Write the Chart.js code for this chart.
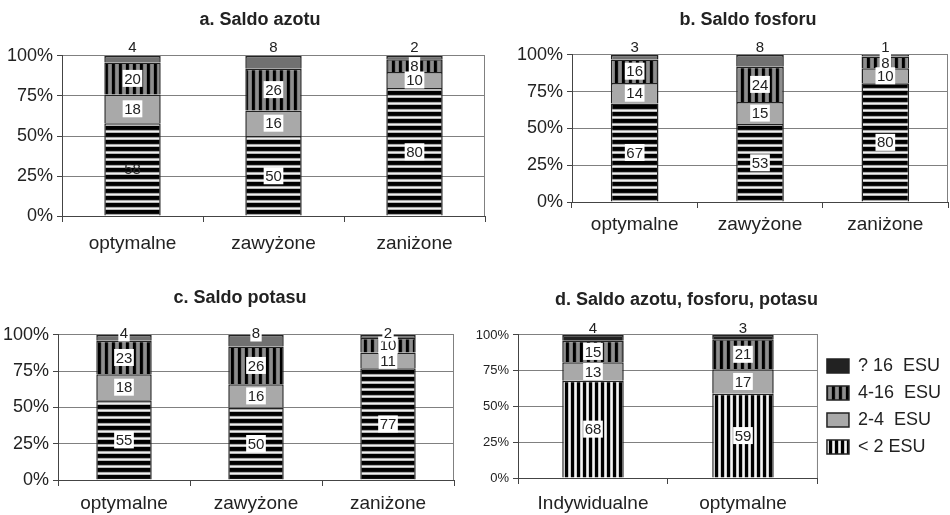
<!DOCTYPE html>
<html>
<head>
<meta charset="utf-8">
<script src="https://cdn.jsdelivr.net/npm/chart.js@4.4.0/dist/chart.umd.min.js"></script>
<style>
    body { margin: 0; width: 950px; height: 515px; overflow: hidden; background: #fff; position: relative; }
    .panel { position: absolute; }
</style>
</head>
<body>
<div class="panel" id="pA"><canvas id="cA"></canvas></div>
<div class="panel" id="pB"><canvas id="cB"></canvas></div>
<div class="panel" id="pC"><canvas id="cC"></canvas></div>
<div class="panel" id="pD"><canvas id="cD"></canvas></div>
<script>
// Kategorie i grupy
const kategorieABC = ["optymalne", "zawyżone", "zaniżone"];
const kategorieD = ["Indywidualne", "optymalne"];
const grupy = ["< 2 ESU", "2-4  ESU", "4-16  ESU", "? 16  ESU"];
const yTicks = [0, 25, 50, 75, 100];

// a. Saldo azotu
const azotPonizej2 = [58, 50, 80];
const azot2do4 = [18, 16, 10];
const azot4do16 = [20, 26, 8];
const azotPowyzej16 = [4, 8, 2];

// b. Saldo fosforu
const fosforPonizej2 = [67, 53, 80];
const fosfor2do4 = [14, 15, 10];
const fosfor4do16 = [16, 24, 8];
const fosforPowyzej16 = [3, 8, 1];

// c. Saldo potasu
const potasPonizej2 = [55, 50, 77];
const potas2do4 = [18, 16, 11];
const potas4do16 = [23, 26, 10];
const potasPowyzej16 = [4, 8, 2];

// d. Saldo azotu, fosforu, potasu
const npkPonizej2 = [68, 59];
const npk2do4 = [13, 17];
const npk4do16 = [15, 21];
const npkPowyzej16 = [4, 3];

const FONT = '"Liberation Sans", Arial, sans-serif';
Chart.defaults.font.family = FONT;

// wzor paskowy: lista kolorow na kolejne piksele
function wzor(ctx, kierunek, kolory) {
    const n = kolory.length;
    const c = document.createElement("canvas");
    c.width = kierunek === "h" ? 8 : n;
    c.height = kierunek === "h" ? n : 8;
    const g = c.getContext("2d");
    kolory.forEach((kol, i) => {
        g.fillStyle = kol;
        if (kierunek === "h") g.fillRect(0, i, 8, 1);
        else g.fillRect(i, 0, 1, 8);
    });
    return ctx.createPattern(c, "repeat");
}

// etykiety wartosci w bialych ramkach
const etykiety = {
    id: "etykiety",
    afterDatasetsDraw(chart, args, opts) {
        const ctx = chart.ctx;
        const n = chart.data.datasets.length;
        ctx.save();
        ctx.font = "15px " + FONT;
        ctx.textAlign = "center";
        ctx.textBaseline = "middle";
        chart.data.datasets.forEach((ds, di) => {
            chart.getDatasetMeta(di).data.forEach((bar, i) => {
                const txt = String(ds.surowe[i]);
                const gora = di === n - 1;
                const y = gora ? bar.y - opts.nadGora : (bar.y + bar.base) / 2;
                const w = ctx.measureText(txt).width + 3;
                const bezRamki = (gora && !opts.ramkaGora) || (opts.bezRamki || []).some(p => p[0] === di && p[1] === i);
                if (!bezRamki) {
                    ctx.fillStyle = "#fff";
                    ctx.fillRect(bar.x - w / 2, y - 8.5, w, 17);
                }
                ctx.fillStyle = "#222";
                ctx.fillText(txt, bar.x, y + 1);
            });
        });
        ctx.restore();
    }
};

// prawa krawedz obszaru wykresu
const ramka = {
    id: "ramka",
    beforeDatasetsDraw(chart) {
        const { ctx, chartArea: a } = chart;
        ctx.save();
        ctx.strokeStyle = "#808080";
        ctx.lineWidth = 1;
        ctx.beginPath();
        ctx.moveTo(a.right - 0.5, a.top);
        ctx.lineTo(a.right - 0.5, a.bottom);
        ctx.stroke();
        ctx.restore();
    }
};

function rysuj(p) {
    // title centred over [cx, cx + cw] via an empty right-hand axis
    const cw = p.tytulKoniec ? p.cw : 2 * (p.tx - p.cx);
    const div = document.getElementById(p.div);
    div.style.left = p.cx + "px";
    div.style.top = p.cy + "px";
    div.style.width = cw + "px";
    div.style.height = p.ch + "px";
    const canvas = document.getElementById(p.canvas);
    const ctx = canvas.getContext("2d");

    const wzorPonizej2 = p.pionowe
        ? wzor(ctx, "v", ["#000", "#000", "#000", "#c4c4c4", "#f4f4f4", "#d0d0d0"])
        : wzor(ctx, "h", ["#000", "#000", "#000", "#111", "#a8a8a8", "#f0f0f0", "#b8b8b8"]);
    const wzor4do16 = wzor(ctx, "v", ["#000", "#000", "#111", "#7a7a7a", "#8e8e8e", "#8e8e8e", "#7a7a7a"]);
    const tla = [wzorPonizej2, "#a9a9a9", wzor4do16, p.kolorGora];

    const sumy = p.kategorie.map((_, i) => p.serie.reduce((s, ser) => s + ser[i], 0));
    const datasets = p.serie.map((vals, k) => ({
        label: grupy[k],
        surowe: vals,
        data: vals.map((v, i) => v / sumy[i] * 100),
        backgroundColor: tla[k],
        borderColor: "#222",
        borderWidth: 1.5,
        barPercentage: p.szer,
        categoryPercentage: 1
    }));

    const yW = p.L - p.cx;
    const prawaW = p.tytulKoniec ? 0 : cw - (p.R - p.cx);
    const tytTop = p.ty - p.cy - 10.8;
    const tytBottom = p.T - p.cy - tytTop - 21.6;

    const skale = {
        x: {
            stacked: true,
            grid: { display: true, drawOnChartArea: false, tickLength: 6, color: "#444", offset: true },
            border: { display: true, color: "#444", width: 1 },
            ticks: { color: "#222", font: { size: 19, family: FONT }, padding: p.xPad, maxRotation: 0, autoSkip: false },
            afterFit(s) { s.height = p.cy + p.ch - p.B; }
        },
        y: {
            stacked: true,
            min: 0,
            max: 100,
            afterBuildTicks(s) { s.ticks = yTicks.map(v => ({ value: v })); },
            grid: { color: "#808080", tickLength: 5, tickColor: "#444" },
            border: { color: "#444", width: 1 },
            ticks: { color: "#222", font: { size: p.yFont, family: FONT }, padding: 4, callback: v => v + "%" },
            afterFit(s) { s.width = yW; }
        }
    };
    if (prawaW > 0) {
        skale.prawa = {
            type: "linear",
            position: "right",
            grid: { display: false },
            border: { display: false },
            ticks: { display: false },
            afterFit(s) { s.width = prawaW; }
        };
    }

    new Chart(canvas, {
        type: "bar",
        data: { labels: p.kategorie, datasets: datasets },
        options: {
            responsive: true,
            maintainAspectRatio: false,
            animation: false,
            layout: { padding: { left: 0, right: p.padPrawo || 0, top: 0, bottom: 0 } },
            plugins: {
                title: {
                    display: true,
                    text: p.tytul,
                    color: "#222",
                    font: { size: 18, weight: "bold", family: FONT, lineHeight: 1.2 },
                    padding: { top: tytTop, bottom: tytBottom },
                    align: p.tytulKoniec ? "end" : "center",
                    fullSize: !p.tytulKoniec
                },
                legend: p.legenda ? {
                    display: true,
                    position: "right",
                    fullSize: false,
                    maxWidth: 200,
                    reverse: true,
                    align: "center",
                    labels: {
                        boxWidth: 22,
                        boxHeight: 14,
                        padding: 9,
                        color: "#222",
                        font: { size: 18, family: FONT }
                    }
                } : { display: false },
                tooltip: { enabled: false },
                etykiety: { nadGora: p.nadGora, ramkaGora: p.ramkaGora, bezRamki: p.bezRamki }
            },
            scales: skale
        },
        plugins: [ramka, etykiety]
    });
}

rysuj({
    div: "pA", canvas: "cA", tytul: "a. Saldo azotu", kategorie: kategorieABC,
    serie: [azotPonizej2, azot2do4, azot4do16, azotPowyzej16],
    cx: 0, cy: 0, ch: 258, L: 62, R: 485, T: 56, B: 216, tx: 260, ty: 20,
    szer: 0.4, xPad: 10, yFont: 18, kolorGora: "#717171",
    nadGora: 9, ramkaGora: false, bezRamki: [[0, 0]]
});
rysuj({
    div: "pB", canvas: "cB", tytul: "b. Saldo fosforu", kategorie: kategorieABC,
    serie: [fosforPonizej2, fosfor2do4, fosfor4do16, fosforPowyzej16],
    cx: 510, cy: 0, ch: 258, L: 572, R: 948, T: 55, B: 202, tx: 748, ty: 20,
    szer: 0.38, xPad: 5, yFont: 18, kolorGora: "#717171",
    nadGora: 8, ramkaGora: false
});
rysuj({
    div: "pC", canvas: "cC", tytul: "c. Saldo potasu", kategorie: kategorieABC,
    serie: [potasPonizej2, potas2do4, potas4do16, potasPowyzej16],
    cx: 0, cy: 258, ch: 257, L: 58, R: 454, T: 335, B: 480, tx: 240, ty: 298,
    szer: 0.42, xPad: 6, yFont: 18, kolorGora: "#717171",
    nadGora: 2, ramkaGora: true
});
rysuj({
    div: "pD", canvas: "cD", tytul: "d. Saldo azotu, fosforu, potasu", kategorie: kategorieD,
    serie: [npkPonizej2, npk2do4, npk4do16, npkPowyzej16],
    cx: 475, cy: 258, cw: 485, ch: 257, L: 518, R: 822, T: 335, B: 478, tx: 685, ty: 300,
    tytulKoniec: true, legenda: true, padPrawo: 9, pionowe: true,
    szer: 0.41, xPad: 8, yFont: 13, kolorGora: "#222",
    nadGora: 7, ramkaGora: false
});
</script>
</body>
</html>
